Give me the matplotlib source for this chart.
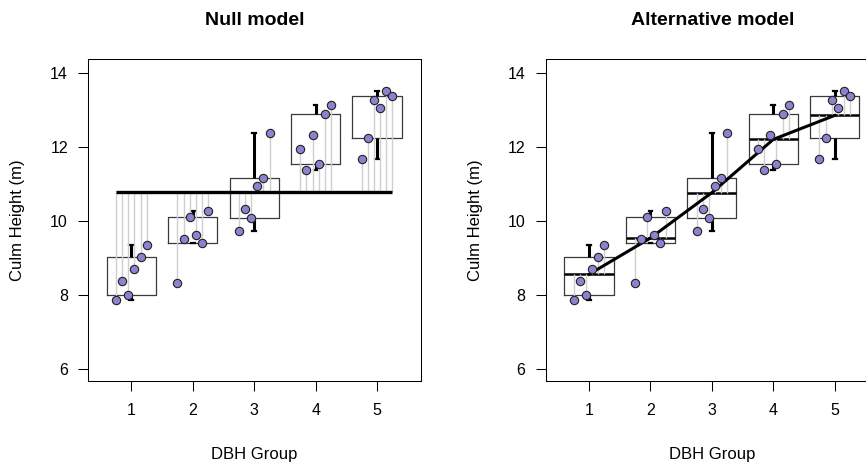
import numpy as np
import matplotlib
matplotlib.use("Agg")
import matplotlib.pyplot as plt

plt.rcParams['font.family'] = ['Liberation Sans', 'DejaVu Sans']

groups = [1, 2, 3, 4, 5]
group_labels = ["1", "2", "3", "4", "5"]
g1 = [7.88, 8.38, 8.00, 8.72, 9.04, 9.36]
g2 = [8.32, 9.52, 10.10, 9.63, 9.42, 10.27]
g3 = [9.73, 10.32, 10.09, 10.95, 11.15, 12.36]
g4 = [11.94, 11.38, 12.32, 11.55, 12.88, 13.14]
g5 = [11.66, 12.25, 13.26, 13.05, 13.51, 13.36]
heights = [g1, g2, g3, g4, g5]
yticks = [6, 8, 10, 12, 14]
titles = ["Null model", "Alternative model"]
xlabel = "DBH Group"
ylabel = "Culm Height (m)"

point_col = "#8a84d0"
jit = np.linspace(-0.25, 0.25, 6)


def tukey_stats(vals):
    v = np.sort(np.asarray(vals, float))
    n = len(v)
    med = np.median(v)
    half = (n + 1) // 2
    lo = np.median(v[:half])
    hi = np.median(v[n - half:])
    iqr = hi - lo
    inside = v[(v >= lo - 1.5 * iqr) & (v <= hi + 1.5 * iqr)]
    return dict(med=med, q1=lo, q3=hi, whislo=inside.min(), whishi=inside.max(), fliers=[])


W, H = 866, 465
fig = plt.figure(figsize=(W / 100, H / 100), dpi=100)
ax_w = 332.4 / W
ax_h = 322 / H
bottom = (H - 381.3) / H
axes = [fig.add_axes([88.3 / W, bottom, ax_w, ax_h]),
        fig.add_axes([546 / W, bottom, ax_w, ax_h])]

grand = np.mean(np.concatenate([np.asarray(h) for h in heights]))
means = [np.mean(h) for h in heights]

for k, ax in enumerate(axes):
    stats = [tukey_stats(h) for h in heights]
    ax.bxp(stats, positions=groups, widths=0.8, showfliers=False,
           capwidths=0.06, patch_artist=False,
           boxprops=dict(color="#3a3a3a", linewidth=0.9),
           whiskerprops=dict(color="black", linewidth=2.2, solid_capstyle="butt"),
           capprops=dict(color="black", linewidth=1.6),
           medianprops=dict(linewidth=0), zorder=1)
    for i, (g, h) in enumerate(zip(groups, heights)):
        xs = g + jit
        fit = grand if k == 0 else means[i]
        if k == 1:
            ax.hlines(means[i], g - 0.4, g + 0.4, color="black", linewidth=1.8, zorder=2)
        ax.vlines(xs, np.full(len(h), fit), h, color="#cfcfcf", linewidth=1.0, zorder=3)
    if k == 0:
        ax.hlines(grand, groups[0] + jit[0], groups[-1] + jit[-1], color="black",
                  linewidth=2.4, zorder=4)
    else:
        ax.plot(groups, means, color="black", linewidth=2.2, zorder=4)
    for g, h in zip(groups, heights):
        ax.scatter(g + jit, h, s=36, color=point_col, edgecolor="#222222",
                   linewidth=0.8, zorder=5)

    ax.set_xlim(0.30, 5.71)
    ax.set_ylim(5.68, 14.36)
    ax.set_xticks(groups)
    ax.set_xticklabels(group_labels)
    ax.set_yticks(yticks)
    ax.tick_params(axis="both", length=7.2, width=0.75, labelsize=11.5, color="black")
    ax.tick_params(axis="x", pad=8.5)
    ax.tick_params(axis="y", pad=7.5)
    for s in ax.spines.values():
        s.set_linewidth(0.75)
        s.set_color("black")
    ax.set_title(titles[k], fontsize=14, fontweight="bold", pad=24.7)
    ax.set_xlabel(xlabel, fontsize=12)
    ax.xaxis.set_label_coords(0.5, -0.2422)
    ax.xaxis.label.set_va("baseline")
    ax.set_ylabel(ylabel, fontsize=12)
    ax.yaxis.set_label_coords(-0.2115, 0.5)
    ax.yaxis.label.set_va("center")

fig.savefig("out.png", dpi=100)
